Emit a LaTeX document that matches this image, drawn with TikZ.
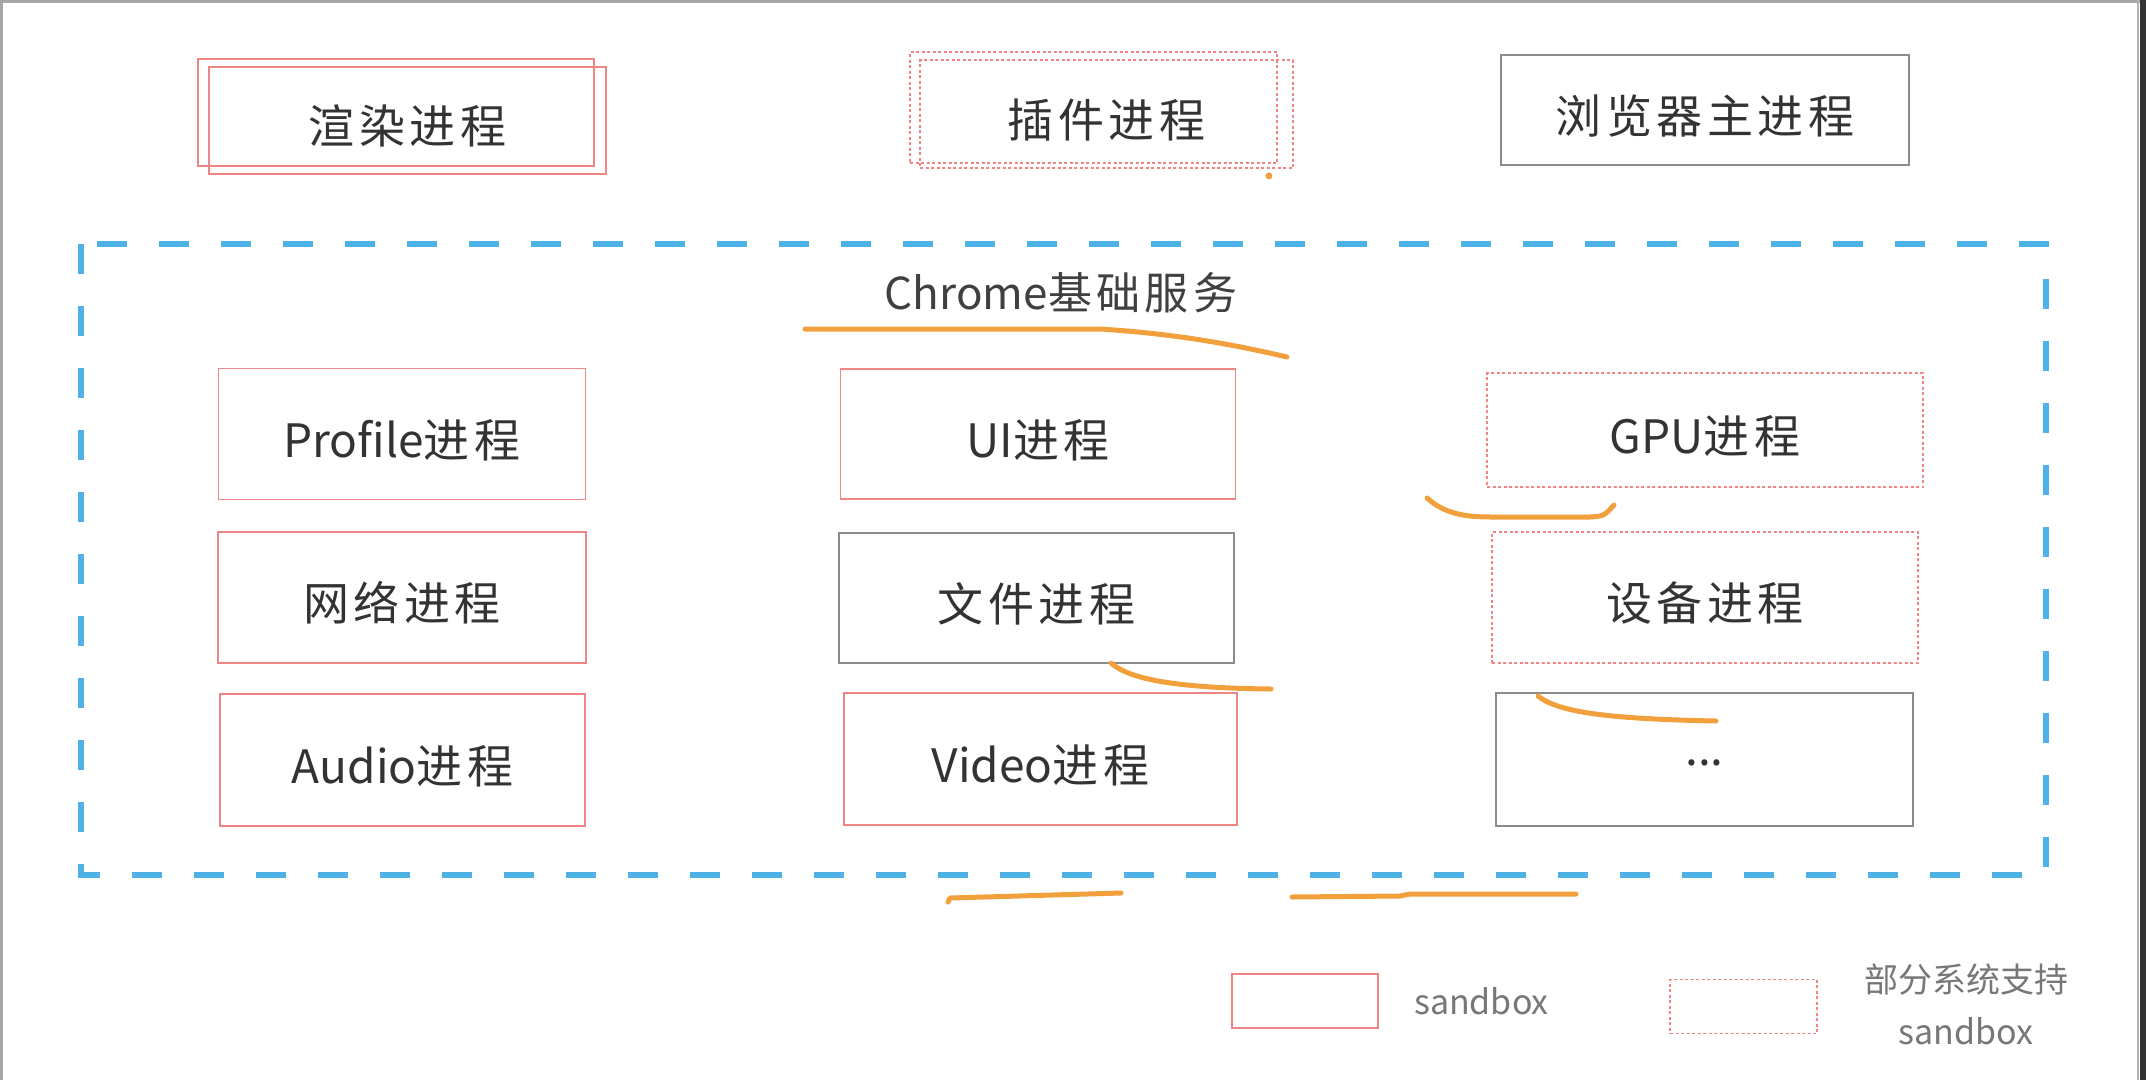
\documentclass[tikz,border=0pt]{standalone}
\usepackage{fontspec}
\setmainfont{Noto Sans CJK SC}
\newfontfamily\zh[LetterSpace=10]{Noto Sans CJK SC}
\usetikzlibrary{positioning}

\definecolor{sbred}{HTML}{EF8585}
\definecolor{frameblue}{HTML}{4DB3E6}
\definecolor{penorange}{HTML}{F2A03C}
\definecolor{boxgray}{HTML}{8C8C8C}
\definecolor{labelgray}{HTML}{777777}

\tikzset{
  wh/.style 2 args={minimum width=#1, minimum height=#2},
  proc/.style={rectangle, line width=1.8pt, inner sep=0pt, text=black!80,
    text height=50pt, text depth=4pt, font=\fontsize{46}{50}\selectfont},
  sandboxed/.style={proc, draw=sbred},
  partial/.style={proc, draw=sbred, dash pattern=on 3pt off 2.5pt},
  plain/.style={proc, draw=boxgray},
  scribble/.style={draw=penorange, line width=5pt, line cap=round, line join=round},
  legend/.style={inner sep=0pt, text=labelgray, font=\fontsize{34}{52}\selectfont}
}

\begin{document}
\begin{tikzpicture}[x=1pt, y=-1pt]
  \useasboundingbox (0,0) rectangle (2146,1080);
  \fill[white] (0,0) rectangle (2146,1080);
  \draw[gray!70, line width=3pt] (1.5,1080) -- (1.5,1.5) -- (2140,1.5);
  \draw[gray!60, line width=2pt] (2138,0) -- (2138,1080);
  \fill[black!80] (2140,0) rectangle (2146,1080);

  % top row
  \node[sandboxed, wh={396pt}{107pt}] (renderback) at (396,112.5) {};
  \node[sandboxed, wh={397pt}{107pt}] (render) at (407.5,120.5) {\zh 渲染进程};
  \node[partial, wh={367pt}{111pt}] (pluginback) at (1093.5,107.5) {};
  \node[partial, wh={373pt}{108pt}] (plugin) at (1106.5,114) {\zh 插件进程};
  \fill[penorange] (plugin.south east) ++(-25,7) circle (3.5pt);
  \node[plain, wh={408pt}{110pt}] (browser) at (1705,110) {\zh 浏览器主进程};

  % Chrome services
  \draw[frameblue, line width=5.5pt, dash pattern=on 30pt off 32pt] (81,244) rectangle (2046,875);
  \node[text=black!75, font=\fontsize{44}{50}\selectfont] (chrome) at (1061,293) {Chrome{\zh 基础服务}};

  \node[sandboxed, wh={367pt}{131pt}] (profile) at (402,434) {Profile{\zh 进程}};
  \node[sandboxed, wh={395pt}{130pt}] (ui) at (1038,434) {UI{\zh 进程}};
  \node[partial, wh={436pt}{114pt}] (gpu) at (1705,430) {GPU{\zh 进程}};

  \node[sandboxed, wh={368pt}{131pt}] (network) at (402,597.5) {\zh 网络进程};
  \node[plain, wh={395pt}{130pt}] (file) at (1036.5,598) {\zh 文件进程};
  \node[partial, wh={426pt}{131pt}] (device) at (1705,597.5) {\zh 设备进程};

  \node[sandboxed, wh={365pt}{132pt}] (audio) at (402.5,760) {Audio{\zh 进程}};
  \node[sandboxed, wh={393pt}{132pt}] (video) at (1040.5,759) {Video{\zh 进程}};
  \node[plain, wh={417pt}{133pt}, text height=12pt, text depth=0pt] (more) at (1704.5,759.5) {...};

  % pen marks
  \draw[scribble] (805,329) -- (1100,329) .. controls (1180,334) and (1240,346) .. (1287,357);
  \draw[scribble] (1427,498) .. controls (1445,514) and (1465,517) .. (1492,517)
    -- (1590,517) .. controls (1604,516) .. (1614,505);
  \draw[scribble] (1111,663) .. controls (1130,680) and (1180,688) .. (1271,689);
  \draw[scribble] (1538,696) .. controls (1560,714) and (1620,719) .. (1716,721);
  \draw[scribble] (948,902) -- (950,898) -- (1121,893);
  \draw[scribble] (1292,897) -- (1400,896) -- (1410,894) -- (1576,894);

  % legend
  \node[sandboxed, wh={146pt}{48pt}] (legsandbox) at (1305,1001) {};
  \node[legend, right=35pt of legsandbox] (legsandboxtext) {sandbox};
  \node[partial, wh={147pt}{50pt}] (legpartial) at (1743.5,1006.5) {};
  \node[legend, align=center] (legpartialtext) at (1966,1004) {部分系统支持\\sandbox};
\end{tikzpicture}
\end{document}
